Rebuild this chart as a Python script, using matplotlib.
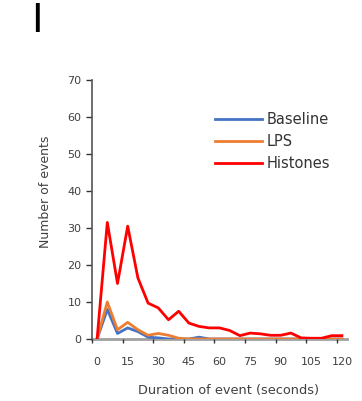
import numpy as np
import matplotlib.pyplot as plt

# Duration bins (seconds) and event counts per condition
duration = list(range(0, 125, 5))
baseline = [0, 8, 1.5, 3, 2, 0.5, 0.3, 0, 0, 0, 0.5, 0, 0, 0, 0, 0, 0, 0, 0, 0, 0, 0, 0, 0, 0]
lps = [0, 10, 2.5, 4.5, 2.5, 1, 1.5, 1, 0.2, 0, 0, 0, 0, 0, 0, 0, 0, 0, 0, 0, 0, 0, 0, 0, 0]
histones = [0, 31.5, 15, 30.5, 16.5, 9.7, 8.4, 5.2, 7.5, 4.3, 3.4, 3, 3, 2.3, 0.9, 1.6,
            1.4, 1, 1, 1.6, 0.3, 0.2, 0.2, 0.9, 0.9]
xtick_labels = ["0", "15", "30", "45", "60", "75", "90", "105", "120"]

fig = plt.figure(figsize=(3.62, 4.01), dpi=100)
ax = fig.add_axes([92 / 362, 1 - 339 / 401, (347 - 92) / 362, (339 - 80) / 401])

ax.plot(duration, baseline, color="#4472C4", lw=2, label="Baseline")
ax.plot(duration, lps, color="#ED7D31", lw=2, label="LPS")
ax.plot(duration, histones, color="#FF0000", lw=2, label="Histones")

ax.set_xlim(-2.5, 122.5)
ax.set_ylim(0, 70)
ax.set_yticks(np.arange(0, 71, 10))

# tick marks sit between categories, labels on the category centres
ax.set_xticks(np.arange(-2.5, 122.5, 15))
ax.set_xticklabels([])
ax.set_xticks(np.arange(0, 121, 15), minor=True)
ax.set_xticklabels(xtick_labels, minor=True)
ax.tick_params(axis="x", which="minor", length=0, pad=13, labelsize=8, labelcolor="#404040")
ax.tick_params(axis="x", which="major", length=3, width=1, color="#333333")
ax.tick_params(axis="y", length=4, width=1, color="#333333", labelsize=8, labelcolor="#404040")

for s in ["top", "right"]:
    ax.spines[s].set_visible(False)
ax.spines["left"].set_color("#555555")
ax.spines["left"].set_linewidth(1.2)
ax.spines["bottom"].set_color("#a0a0a0")
ax.spines["bottom"].set_linewidth(2)
ax.spines["bottom"].set_zorder(0)

ax.set_ylabel("Number of events", fontsize=9, color="#404040")
ax.yaxis.set_label_coords(-0.157, 0.568)
ax.set_xlabel("Duration of event (seconds)", fontsize=9.3, color="#404040")
ax.xaxis.set_label_coords(0.535, -0.174)

ax.legend(loc="upper left", bbox_to_anchor=(0.482, 0.876), frameon=False, fontsize=10.5,
          handlelength=3.2, handletextpad=0.35, labelspacing=0.47, borderpad=0,
          borderaxespad=0, labelcolor="#333333")

fig.text(31 / 362, 1 - 21.5 / 401, "I", fontsize=28, fontweight="medium", va="center", ha="left")

fig.savefig("out.png", dpi=100)
